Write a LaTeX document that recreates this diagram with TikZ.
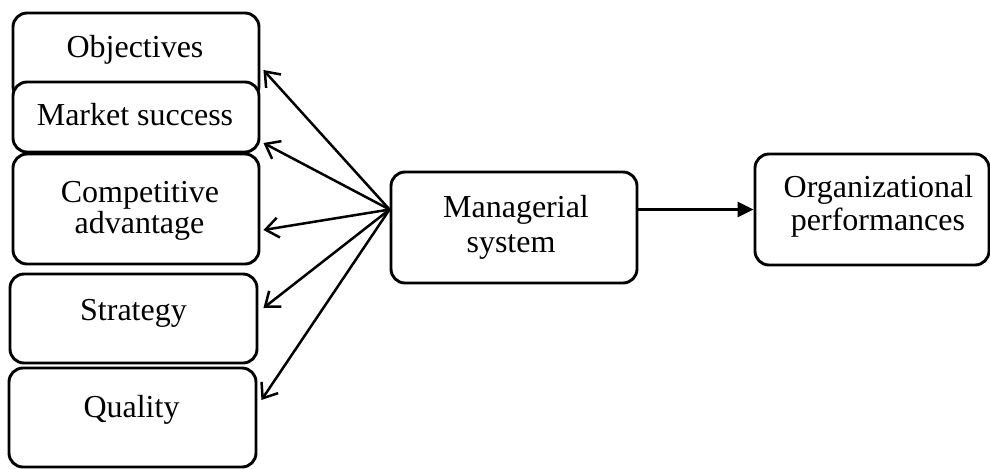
\documentclass[tikz,border=0pt]{standalone}
\usepackage{fontspec}
\setmainfont{Liberation Serif}
\usetikzlibrary{arrows.meta}
\begin{document}
\begin{tikzpicture}[x=0.5pt,y=-0.5pt,
  box/.style={draw=black, fill=white, line width=1.45pt, rounded corners=7pt, inner sep=0pt},
  txt/.style={inner sep=0pt, anchor=base, font=\fontsize{16}{18}\selectfont},
  link/.style={line width=1.25pt, -{Straight Barb[length=6.5pt,width=10pt,line width=1.25pt]}},
  flow/.style={line width=1.25pt, -{Triangle[length=8pt,width=7.5pt]}}]
\useasboundingbox (0,0) rectangle (990,468);
% left column boxes
\node[box, minimum width=123pt, minimum height=43.5pt] (obj) at (136,56.5) {};
\node[box, minimum width=123pt, minimum height=35pt] (mkt) at (136,117) {};
\node[box, minimum width=123pt, minimum height=55pt] (comp) at (136,209) {};
\node[box, minimum width=123.5pt, minimum height=44.5pt] (strat) at (133.5,318.5) {};
\node[box, minimum width=123.5pt, minimum height=49.5pt] (qual) at (132.5,417.5) {};
% centre and right boxes
\node[box, minimum width=123pt, minimum height=55.5pt] (mgr) at (514,227.5) {};
\node[box, minimum width=117pt, minimum height=55.5pt] (org) at (872,209.5) {};
% texts
\node[txt] (objT) at (135,57) {Objectives};
\node[txt] (mktT) at (135,125) {Market success};
\node[txt] (compA) at (140,202) {Competitive};
\node[txt] (compB) at (139.5,233) {advantage};
\node[txt] (stratT) at (133.5,320) {Strategy};
\node[txt] (qualT) at (131.5,417) {Quality};
\node[txt] (mgrA) at (516,217) {Managerial};
\node[txt] (mgrB) at (511,252) {system};
\node[txt] (orgA) at (878.5,197) {Organizational};
\node[txt] (orgB) at (878,230) {performances};
% connectors
\coordinate (hub) at (mgr.west |- org.west);
\draw[link] (hub) -- ([shift={(3,13.5)}]obj.east);
\draw[link] (hub) -- ([shift={(3,26)}]mkt.east);
\draw[link] (hub) -- ([shift={(3,21)}]comp.east);
\draw[link] (hub) -- ([shift={(5,-10.5)}]strat.east);
\draw[link] (hub) -- ([shift={(4,-17.5)}]qual.east);
\draw[flow] (mgr.east |- org.west) -- (org.west);
\end{tikzpicture}
\end{document}
